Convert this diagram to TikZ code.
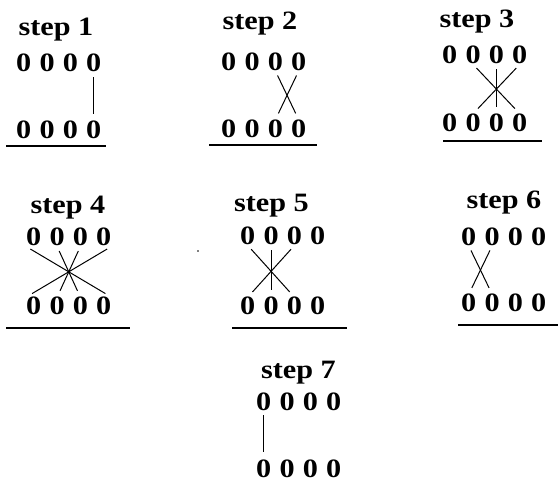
\documentclass[tikz,border=0pt]{standalone}
\usepackage{fontspec}
\usepackage{tikz}
\usetikzlibrary{positioning}
\newfontfamily\stepfont{Liberation Serif}[FakeStretch=1.14]

\begin{document}
\begin{tikzpicture}[x=1pt, y=-1pt,
                     title/.style={font=\stepfont\bfseries\fontsize{26.5}{30}\selectfont,
                         inner sep=0pt,
                         anchor=base},
                     dig/.style={font=\stepfont\bfseries\fontsize{26.5}{30}\selectfont,
                         inner sep=0pt,
                         anchor=base},
                     link/.style={line width=1pt,
                         shorten <=5pt,
                         shorten >=7pt},
                     rule/.style={line width=1.5pt}]
    \useasboundingbox (0,0) rectangle (558,492);
    \foreach \s/\hx/\hy/\dx/\ty/\by in {1/56/36/23.8/72/139,
                                         2/260/30/228.8/70.5/137.5,
                                         3/477/28/449.8/64/131.5,
                                         4/68/214/33.8/246/315,
                                         5/271.5/212/247.8/245/315,
                                         6/504/209/468.8/245.5/312,
                                         7/298.5/378/263.8/410/477}{
        \node[title](h\s) at (\hx,\hy) {step \s};
        \foreach \i in {1,...,4}{
            \node[dig](t\s-\i) at (\dx+23.3*\i-23.3,\ty) {0};
            \node[dig](b\s-\i) at (\dx+23.3*\i-23.3,\by) {0};
        }
    }
    \foreach \u / \v in {t1-4.south/b1-4.north,
                         t2-4.south/b2-3.north, t2-3.south/b2-4.north,
                         t3-2.south/b3-4.north, t3-3.south/b3-3.north, t3-4.south/b3-2.north,
                         t4-1.south west/b4-4.north east, t4-2.south/b4-3.north,
                         t4-3.south/b4-2.north, t4-4.south east/b4-1.north west,
                         t5-1.south/b5-3.north, t5-2.south/b5-2.north, t5-3.south/b5-1.north,
                         t6-1.south/b6-2.north, t6-2.south/b6-1.north,
                         t7-1.south/b7-1.north}
        \draw[link] (\u) -- (\v);
    \foreach \a / \b / \y in {6/106/146, 209/317/145, 443/542/141,
                              6/130/328, 232/347/328, 458/558/325}
        \draw[rule] (\a,\y) -- (\b,\y);
    \fill (198,251) circle (0.9);
\end{tikzpicture}
\end{document}
